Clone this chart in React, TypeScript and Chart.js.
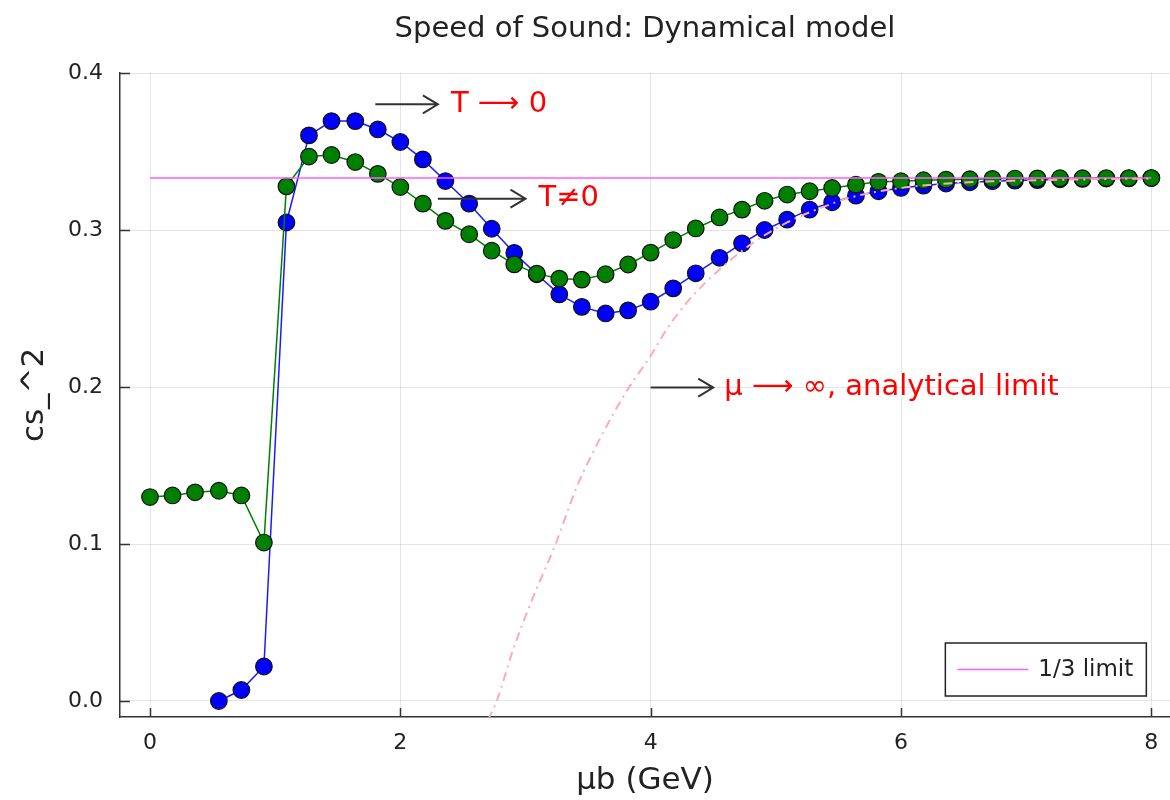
import React, { useEffect, useRef } from "react";
import { Chart, registerables } from "chart.js";
Chart.register(...registerables);

const TITLE = "Speed of Sound: Dynamical model";
const X_LABEL = "μb (GeV)";
const Y_LABEL = "cs_^2";
const X_TICKS = [0, 2, 4, 6, 8];
const Y_TICKS = [0.0, 0.1, 0.2, 0.3, 0.4];
const LIMIT_LABEL = "1/3 limit";

// chemical potential grid (GeV)
const muB = [
  0.0, 0.18, 0.36, 0.55, 0.73, 0.91, 1.09, 1.27, 1.45, 1.64, 1.82,
  2.0, 2.18, 2.36, 2.55, 2.73, 2.91, 3.09, 3.27, 3.45, 3.64, 3.82,
  4.0, 4.18, 4.36, 4.55, 4.73, 4.91, 5.09, 5.27, 5.45, 5.64, 5.82,
  6.0, 6.18, 6.36, 6.55, 6.73, 6.91, 7.09, 7.27, 7.45, 7.64, 7.82, 8.0,
];

// T -> 0 (blue)
const csZeroT = [
  null, null, null, 0.0, 0.007, 0.022, 0.305, 0.3605, 0.3696, 0.3696, 0.3643,
  0.3563, 0.3452, 0.3314, 0.317, 0.301, 0.2856, 0.272, 0.2592, 0.2512, 0.247, 0.249,
  0.2545, 0.263, 0.2726, 0.2825, 0.2917, 0.3002, 0.3068, 0.3132, 0.3179, 0.3221, 0.3249,
  0.327, 0.3285, 0.3298, 0.3306, 0.3313, 0.3317, 0.332, 0.3325, 0.3328, 0.333, 0.3331, 0.3333,
];

// T != 0 (green)
const csFiniteT = [
  0.13, 0.131, 0.133, 0.134, 0.131, 0.101, 0.328, 0.347, 0.348, 0.3435, 0.336,
  0.3276, 0.317, 0.306, 0.2975, 0.287, 0.2783, 0.2724, 0.2692, 0.2686, 0.272, 0.2782,
  0.2858, 0.2938, 0.3012, 0.3082, 0.3132, 0.3188, 0.3228, 0.3249, 0.327, 0.3291, 0.3309,
  0.3313, 0.3319, 0.3323, 0.3326, 0.3328, 0.333, 0.3331, 0.3332, 0.3332, 0.3333, 0.3333, 0.3333,
];

// 1/3 limit
const limitX = [0, 8];
const limitY = [0.33333, 0.33333];

// mu -> infinity analytical limit
const analyticX = [2.7, 2.77, 2.9, 3.06, 3.24, 3.41, 3.6, 3.82, 4.0, 4.12, 4.3, 4.55, 4.8, 5.09, 5.35, 5.6, 6.0, 6.4, 7.0, 7.5, 8.0];
const analyticY = [-0.012, 0.0, 0.0325, 0.066, 0.1, 0.1365, 0.168, 0.199, 0.22, 0.236, 0.255, 0.275, 0.291, 0.305, 0.314, 0.321, 0.327, 0.33, 0.3318, 0.3325, 0.333];

// arrow annotations (data coordinates)
const arrowFrom = [1.8, 2.3, 4.0];
const arrowTo = [2.3, 3.0, 4.5];
const arrowY = [0.3803, 0.3202, 0.1998];
const noteX = [2.404, 3.104, 4.588];
const noteText = ["T ⟶ 0", "T≠0", "μ ⟶ ∞, analytical limit"];

const FONT = "'DejaVu Sans', sans-serif";

const toPoints = (xs: number[], ys: (number | null)[]) =>
  xs.map((x, i) => ({ x, y: ys[i] })).filter((p) => p.y !== null);

const decorPlugin = {
  id: "decor",
  afterDatasetsDraw(chart: any) {
    const { ctx, chartArea, scales } = chart;
    const xs = scales.x;
    const ys = scales.y;
    ctx.save();
    // inward ticks
    ctx.strokeStyle = "#333";
    ctx.lineWidth = 1.5;
    ctx.beginPath();
    X_TICKS.forEach((v) => {
      const px = Math.round(xs.getPixelForValue(v)) + 0.5;
      ctx.moveTo(px, chartArea.bottom);
      ctx.lineTo(px, chartArea.bottom - 9);
    });
    Y_TICKS.forEach((v) => {
      const py = Math.round(ys.getPixelForValue(v)) + 0.5;
      ctx.moveTo(chartArea.left, py);
      ctx.lineTo(chartArea.left + 10, py);
    });
    ctx.stroke();

    // arrows
    ctx.strokeStyle = "#333";
    ctx.lineWidth = 2;
    arrowFrom.forEach((a, i) => {
      const x0 = xs.getPixelForValue(a);
      const x1 = xs.getPixelForValue(arrowTo[i]);
      const y = ys.getPixelForValue(arrowY[i]);
      ctx.beginPath();
      ctx.moveTo(x0, y);
      ctx.lineTo(x1, y);
      ctx.moveTo(x1 - 15, y - 9);
      ctx.lineTo(x1, y);
      ctx.lineTo(x1 - 15, y + 9);
      ctx.stroke();
    });
    // notes
    ctx.fillStyle = "#ff0000";
    ctx.font = `29px ${FONT}`;
    ctx.textAlign = "left";
    ctx.textBaseline = "middle";
    noteText.forEach((t, i) => {
      ctx.fillText(t, xs.getPixelForValue(noteX[i]), ys.getPixelForValue(arrowY[i]));
    });

    // legend box
    const ds = chart.data.datasets.find((d: any) => d.label === LIMIT_LABEL);
    const right = xs.getPixelForValue(8) - 5;
    const bottom = chartArea.bottom - 21;
    const w = 201;
    const h = 53;
    const left = right - w;
    const top = bottom - h;
    ctx.fillStyle = "#fff";
    ctx.fillRect(left, top, w, h);
    ctx.strokeStyle = "#222";
    ctx.lineWidth = 1.5;
    ctx.strokeRect(left, top, w, h);
    ctx.strokeStyle = ds.borderColor;
    ctx.lineWidth = 1.5;
    ctx.beginPath();
    ctx.moveTo(left + 12, top + h / 2);
    ctx.lineTo(left + 83, top + h / 2);
    ctx.stroke();
    ctx.fillStyle = "#222";
    ctx.font = `23px ${FONT}`;
    ctx.fillText(ds.label, left + 93, top + h / 2 + 1);
    ctx.restore();
  },
};

export default function App() {
  const ref = useRef<HTMLCanvasElement | null>(null);
  useEffect(() => {
    if (!ref.current) return;
    const chart = new Chart(ref.current, {
      type: "line",
      data: {
        datasets: [
          {
            label: "T0",
            data: toPoints(muB, csZeroT),
            borderColor: "#1a1aff",
            backgroundColor: "#0000ff",
            borderWidth: 1.5,
            pointRadius: 8.3,
            pointBorderWidth: 1.2,
            pointBorderColor: "#111",
            pointBackgroundColor: "#0000ff",
            order: 4,
          },
          {
            label: "T",
            data: toPoints(muB, csFiniteT),
            borderColor: "#008000",
            backgroundColor: "#008000",
            borderWidth: 1.5,
            pointRadius: 8.3,
            pointBorderWidth: 1.2,
            pointBorderColor: "#111",
            pointBackgroundColor: "#008000",
            order: 3,
          },
          {
            label: LIMIT_LABEL,
            data: toPoints(limitX, limitY),
            borderColor: "#ff5cff",
            borderWidth: 1.6,
            pointRadius: 0,
            order: 2,
          },
          {
            label: "analytic",
            data: toPoints(analyticX, analyticY),
            borderColor: "#ffaabb",
            borderWidth: 2,
            borderDash: [9, 5, 2, 5],
            cubicInterpolationMode: "monotone",
            pointRadius: 0,
            order: 1,
          },
        ],
      },
      options: {
        responsive: false,
        animation: false,
        events: [],
        layout: { padding: 0, autoPadding: false },
        plugins: {
          legend: { display: false },
          tooltip: { enabled: false },
          title: {
            display: true,
            text: TITLE,
            fullSize: false,
            color: "#222",
            font: { family: FONT, size: 29, weight: "normal" },
            padding: { top: 12, bottom: 26 },
          },
        },
        scales: {
          x: {
            type: "linear",
            min: -0.2397,
            max: 8.149,
            afterBuildTicks: (s: any) => {
              s.ticks = X_TICKS.map((v) => ({ value: v }));
            },
            afterFit: (s: any) => {
              s.height = 83;
              s.paddingLeft = 0;
              s.paddingRight = 0;
            },
            grid: { color: "rgba(0,0,0,0.1)", lineWidth: 1, drawTicks: false },
            border: { color: "#333", width: 1.5 },
            ticks: {
              color: "#222",
              font: { family: FONT, size: 22 },
              padding: 13,
              maxRotation: 0,
              autoSkip: false,
              callback: (v: any) => String(v),
            },
            title: {
              display: true,
              text: X_LABEL,
              color: "#222",
              font: { family: FONT, size: 31 },
              padding: { top: 0, bottom: 0 },
            },
          },
          y: {
            type: "linear",
            min: -0.0102,
            max: 0.4004,
            afterBuildTicks: (s: any) => {
              s.ticks = Y_TICKS.map((v) => ({ value: v }));
            },
            afterFit: (s: any) => {
              s.width = 120;
              s.paddingTop = 0;
              s.paddingBottom = 0;
            },
            grid: { color: "rgba(0,0,0,0.1)", lineWidth: 1, drawTicks: false },
            border: { color: "#333", width: 1.5 },
            ticks: {
              color: "#222",
              font: { family: FONT, size: 22 },
              padding: 17,
              autoSkip: false,
              callback: (v: any) => Number(v).toFixed(1),
            },
            title: {
              display: true,
              text: Y_LABEL,
              color: "#222",
              font: { family: FONT, size: 31 },
              padding: { top: 16, bottom: 0 },
            },
          },
        },
      },
      plugins: [decorPlugin],
    } as any);
    return () => chart.destroy();
  }, []);
  return (
    <div style={{ position: "absolute", left: 0, top: 0, width: 1170, height: 800, background: "#fff" }}>
      <canvas ref={ref} width={1170} height={800} style={{ display: "block" }} />
    </div>
  );
}
